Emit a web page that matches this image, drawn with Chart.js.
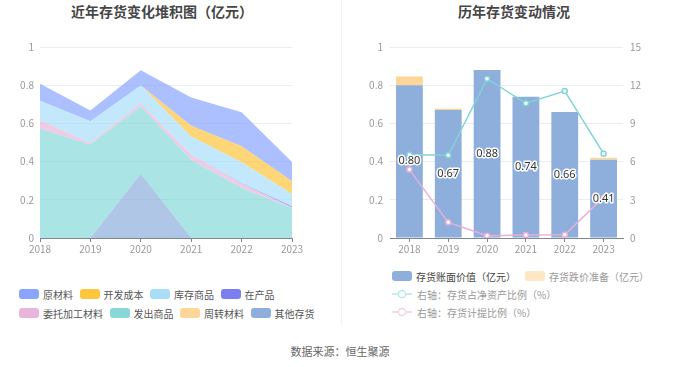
<!DOCTYPE html>
<html>
<head>
<meta charset="utf-8">
<script src="https://cdn.jsdelivr.net/npm/chart.js@4.4.1/dist/chart.umd.min.js"></script>
<style>
  body { margin: 0; background: #fff; font-family: "Noto Sans CJK SC", "Noto Sans", sans-serif; }
  #page { position: relative; width: 680px; height: 367px; overflow: hidden; background: #fff; }
  .title { position: absolute; top: 1px; line-height: 20px; font-size: 14px; font-weight: bold; color: #464646; transform: translateX(-50%); white-space: nowrap; }
  .divider { position: absolute; left: 341px; top: 0; width: 1px; height: 325px; background: #f2f2f2; }
  .box { position: absolute; top: 30px; width: 340px; height: 230px; }
  .legend { position: absolute; font-size: 10px; }
  .row { display: flex; align-items: center; column-gap: 6.5px; white-space: nowrap; }
  .item { display: flex; align-items: center; }
  .sw { display: inline-block; width: 20px; height: 10px; border-radius: 3px; margin-right: 4px; }
  .lineIcon { margin-right: 5px; }
  #src { position: absolute; top: 344px; left: 0; width: 680px; text-align: center; font-size: 11px; line-height: 14px; color: #666; }
</style>
</head>
<body>
<div id="page">
  <div class="title" style="left:162px">近年存货变化堆积图（亿元）</div>
  <div class="title" style="left:514px">历年存货变动情况</div>
  <div class="divider"></div>

  <div class="box" style="left:0"><canvas id="stackChart" width="340" height="230"></canvas></div>
  <div class="box" style="left:340px"><canvas id="stockChart" width="340" height="230"></canvas></div>

  <div class="legend" id="leftLegend" style="left:19px; top:284.5px; color:#555"></div>
  <div class="legend" id="rightLegend" style="left:392px; top:267px"></div>

  <div id="src">数据来源：恒生聚源</div>
</div>

<script>
// ---- data ----
const years = ['2018', '2019', '2020', '2021', '2022', '2023'];

// left: stacked inventory breakdown (亿元)
const rawMaterial   = [0.089, 0.057, 0.080, 0.148, 0.178, 0.101]; // 原材料
const devCost       = [0, 0, 0, 0.056, 0.084, 0.067];             // 开发成本
const goodsInStock  = [0.103, 0.114, 0.093, 0.096, 0.110, 0.064]; // 库存商品
const wip           = [0, 0, 0, 0, 0.002, 0.006];                 // 在产品
const outsourced    = [0.044, 0.008, 0.016, 0.026, 0.022, 0.003]; // 委托加工材料
const goodsShipped  = [0.572, 0.489, 0.352, 0.410, 0.262, 0.157]; // 发出商品
const turnover      = [0, 0, 0, 0, 0, 0];                         // 周转材料
const otherStock    = [0, 0, 0.337, 0, 0, 0];                     // 其他存货
const stackTicks = [0, 0.2, 0.4, 0.6, 0.8, 1];

// right: book value, impairment, ratios
const bookValue      = [0.80, 0.67, 0.88, 0.74, 0.66, 0.41]; // 存货账面价值
const impairment     = [0.046, 0.007, 0, 0, 0, 0.010];       // 存货跌价准备
const assetRatio     = [6.54, 6.49, 12.51, 10.58, 11.54, 6.62]; // 存货占净资产比例
const provisionRatio = [5.37, 1.23, 0.18, 0.24, 0.26, 3.19];    // 存货计提比例
const leftTicks  = [0, 0.2, 0.4, 0.6, 0.8, 1];
const rightTicks = [0, 3, 6, 9, 12, 15];

// ---- shared styling ----
const tickFont = { family: '"Noto Sans CJK SC", "Noto Sans", sans-serif', size: 10 };
const tickColor = '#999';
const gridColor = '#e8ecf4';
const axisColor = '#7f8796';
const plainNum = v => String(v);

function rgba(hex, a) {
    const n = parseInt(hex.slice(1), 16);
    return `rgba(${n >> 16}, ${(n >> 8) & 255}, ${n & 255}, ${a})`;
}

// bottom of stack first; legend order is the reverse
const stackSeries = [
    { label: '其他存货', data: otherStock, color: '#8eaedb' },
    { label: '周转材料', data: turnover, color: '#ffd699' },
    { label: '发出商品', data: goodsShipped, color: '#88d8d8' },
    { label: '委托加工材料', data: outsourced, color: '#e8b6da' },
    { label: '在产品', data: wip, color: '#7a7ef0' },
    { label: '库存商品', data: goodsInStock, color: '#a9def9' },
    { label: '开发成本', data: devCost, color: '#ffc53d' },
    { label: '原材料', data: rawMaterial, color: '#89a5ff' }
];

new Chart(document.getElementById('stackChart'), {
    type: 'line',
    data: {
        labels: years,
        datasets: stackSeries.map((s, i) => ({
            label: s.label,
            data: s.data,
            fill: i === 0 ? 'origin' : '-1',
            backgroundColor: rgba(s.color, 0.7),
            borderColor: 'rgba(0,0,0,0)',
            borderWidth: 0,
            pointRadius: 0,
            tension: 0
        }))
    },
    options: {
        responsive: false,
        animation: false,
        layout: { padding: { left: 0, right: 48, top: 17, bottom: 0 } },
        plugins: { legend: { display: false }, tooltip: { enabled: false } },
        scales: {
            x: {
                offset: false,
                grid: { drawOnChartArea: false, drawTicks: true, tickLength: 4, color: axisColor },
                border: { color: axisColor },
                ticks: { color: tickColor, font: tickFont, padding: 1, maxRotation: 0, autoSkip: false },
                afterFit(s) { s.height = 22; }
            },
            y: {
                stacked: true,
                min: 0,
                max: 1,
                afterBuildTicks(s) { s.ticks = stackTicks.map(v => ({ value: v })); },
                grid: { color: gridColor, drawTicks: false },
                border: { display: false },
                ticks: { color: tickColor, font: tickFont, padding: 6, callback: plainNum },
                afterFit(s) { s.width = 40; }
            }
        }
    }
});

// value labels in the middle of the book-value bars
const barLabelPlugin = {
    id: 'barLabels',
    afterDatasetsDraw(chart) {
        const meta = chart.getDatasetMeta(2);
        const ctx = chart.ctx;
        ctx.save();
        ctx.font = '11px "Noto Sans", sans-serif';
        ctx.textAlign = 'center';
        ctx.textBaseline = 'middle';
        ctx.lineJoin = 'round';
        ctx.lineWidth = 3;
        ctx.strokeStyle = '#fff';
        ctx.fillStyle = '#333';
        meta.data.forEach((bar, i) => {
            const p = bar.getCenterPoint();
            const txt = bookValue[i].toFixed(2);
            ctx.strokeText(txt, p.x, p.y);
            ctx.fillText(txt, p.x, p.y);
        });
        ctx.restore();
    }
};

new Chart(document.getElementById('stockChart'), {
    type: 'bar',
    data: {
        labels: years,
        datasets: [
            {
                type: 'line', label: '右轴：存货占净资产比例（%）', data: assetRatio, yAxisID: 'y1', order: 0,
                borderColor: '#80d4d8', borderWidth: 1.5, pointRadius: 2.5, pointBorderWidth: 1.5,
                pointBackgroundColor: '#fff', pointBorderColor: '#80d4d8', tension: 0, fill: false
            },
            {
                type: 'line', label: '右轴：存货计提比例（%）', data: provisionRatio, yAxisID: 'y1', order: 0,
                borderColor: '#e8b0d8', borderWidth: 1.5, pointRadius: 2.5, pointBorderWidth: 1.5,
                pointBackgroundColor: '#fff', pointBorderColor: '#e8b0d8', tension: 0, fill: false
            },
            {
                label: '存货账面价值（亿元）', data: bookValue, yAxisID: 'y', order: 1, stack: 'inv',
                backgroundColor: '#8eaedb', barPercentage: 0.69, categoryPercentage: 1
            },
            {
                label: '存货跌价准备（亿元）', data: impairment, yAxisID: 'y', order: 1, stack: 'inv',
                backgroundColor: '#ffd699', barPercentage: 0.69, categoryPercentage: 1
            }
        ]
    },
    options: {
        responsive: false,
        animation: false,
        layout: { padding: { left: 0, right: 0, top: 17, bottom: 0 } },
        plugins: { legend: { display: false }, tooltip: { enabled: false } },
        scales: {
            x: {
                stacked: true,
                offset: true,
                grid: { offset: false, drawOnChartArea: false, drawTicks: true, tickLength: 4, color: axisColor },
                border: { color: axisColor },
                ticks: { color: tickColor, font: tickFont, padding: 1, maxRotation: 0, autoSkip: false },
                afterFit(s) { s.height = 22; }
            },
            y: {
                stacked: true,
                position: 'left',
                min: 0,
                max: 1,
                afterBuildTicks(s) { s.ticks = leftTicks.map(v => ({ value: v })); },
                grid: { color: gridColor, drawTicks: false },
                border: { display: false },
                ticks: { color: tickColor, font: tickFont, padding: 7, callback: plainNum },
                afterFit(s) { s.width = 50; }
            },
            y1: {
                stacked: false,
                position: 'right',
                min: 0,
                max: 15,
                afterBuildTicks(s) { s.ticks = rightTicks.map(v => ({ value: v })); },
                grid: { drawOnChartArea: false, drawTicks: false },
                border: { display: false },
                ticks: { color: tickColor, font: tickFont, padding: 7, callback: plainNum },
                afterFit(s) { s.width = 57; }
            }
        }
    },
    plugins: [barLabelPlugin]
});

// ---- html legends ----
function swatch(color) {
    return `<span class="sw" style="background:${color}"></span>`;
}
function lineIcon(color) {
    return `<svg class="lineIcon" width="20" height="10" viewBox="0 0 20 10">
      <line x1="0" y1="5" x2="20" y2="5" stroke="${color}" stroke-width="1.5"/>
      <circle cx="10" cy="5" r="3.6" fill="#fff" stroke="${color}" stroke-width="1.5"/></svg>`;
}

const legendOrder = stackSeries.slice().reverse();
const leftRows = [legendOrder.slice(0, 4), legendOrder.slice(4)];
document.getElementById('leftLegend').innerHTML = leftRows.map(r =>
    `<div class="row" style="height:19px">` +
    r.map(s => `<span class="item">${swatch(s.color)}${s.label}</span>`).join('') +
    `</div>`).join('');

document.getElementById('rightLegend').innerHTML =
    `<div class="row" style="height:18px; column-gap:9px">
       <span class="item" style="color:#444">${swatch('#8eaedb')}存货账面价值（亿元）</span>
       <span class="item" style="color:#999">${swatch('#fde7c4')}存货跌价准备（亿元）</span>
     </div>
     <div class="row" style="height:18px; color:#999"><span class="item">${lineIcon('#b5e9ea')}右轴：存货占净资产比例（%）</span></div>
     <div class="row" style="height:18px; color:#999"><span class="item">${lineIcon('#f4cfe7')}右轴：存货计提比例（%）</span></div>`;
</script>
</body>
</html>
